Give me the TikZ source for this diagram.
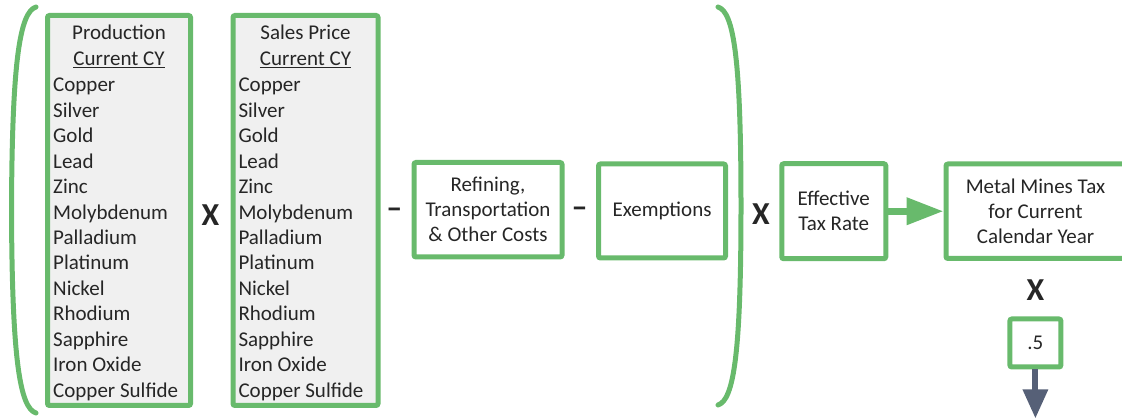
\documentclass[tikz,border=0pt]{standalone}
\usepackage{fontspec}
\setmainfont{Carlito}
\usetikzlibrary{arrows.meta}

\definecolor{boxgreen}{RGB}{104,186,108}
\definecolor{listfill}{RGB}{240,240,240}
\definecolor{inkgray}{RGB}{38,38,38}
\definecolor{arrowgray}{RGB}{86,96,119}

% underline that runs close under the baseline
\newcommand{\undertext}[1]{\setbox0=\hbox{#1}\rlap{\rule[-2.8pt]{\wd0}{1.3pt}}\box0}

\tikzset{
    txt/.style={font=\fontsize{21}{25}\selectfont, text=inkgray},
    box/.style={txt, draw=boxgreen, line width=5pt, rounded corners=2pt,
        align=center, inner sep=0pt},
    listbox/.style={box, fill=listfill},
    item/.style={txt, anchor=base west, inner sep=0pt},
    head/.style={txt, anchor=base, inner sep=0pt},
    op/.style={font=\fontsize{32}{32}\selectfont\bfseries, text=inkgray, inner sep=0pt},
    paren/.style={draw=boxgreen, line width=5pt, line cap=round},
    greenarrow/.style={draw=boxgreen, line width=7pt,
        -{Triangle[length=37pt, width=26pt]}},
    grayarrow/.style={draw=arrowgray, line width=6pt,
        -{Triangle[length=29pt, width=24pt]}}
}

\begin{document}
\begin{tikzpicture}[x=1pt, y=1pt]
    \useasboundingbox (0,0) rectangle (1122,-419);
    % big brackets round the first four terms
    \draw[paren] (36,-7) .. controls (20,-12) and (12,-60) .. (11.5,-210)
        .. controls (12,-360) and (20,-408) .. (36,-413);
    \draw[paren] (718,-7) .. controls (734,-12) and (741,-60) .. (741,-206)
        .. controls (741,-352) and (734,-400) .. (718,-405);
    % the two list boxes
    \node[listbox, minimum width=143pt, minimum height=390pt] (prod) at (119,-210.5) {};
    \node[listbox, minimum width=145pt, minimum height=390pt] (price) at (305.5,-210.5) {};
    % headings of the lists
    \node[head] (prod-head) at (119,-40) {Production};
    \node[head] (prod-cy) at (119,-65.7) {\undertext{Current CY}};
    \node[head] (price-head) at (305.5,-40) {Sales Price};
    \node[head] (price-cy) at (305.5,-65.7) {\undertext{Current CY}};
    % one line for each metal, in both lists
    \foreach \m [count=\i] in {Copper,Silver,Gold,Lead,Zinc,Molybdenum,Palladium,
        Platinum,Nickel,Rhodium,Sapphire,Iron Oxide,Copper Sulfide}{
        \node[item] (prod-\i) at (53,{-91.7-25.47*(\i-1)}) {\m};
        \node[item] (price-\i) at (238.3,{-91.7-25.47*(\i-1)}) {\m};
    }
    % the other terms
    \node[box, minimum width=148pt, minimum height=94.5pt] (costs) at (488,-209.75)
        {Refining,\\Transportation\\\& Other Costs};
    \node[box, minimum width=127pt, minimum height=94pt] (exempt) at (662,-211) {Exemptions};
    \node[box, minimum width=104pt, minimum height=95pt] (rate) at (833.75,-211.25)
        {Effective\\Tax Rate};
    \node[box, minimum width=179pt, minimum height=94.5pt] (tax) at (1035.5,-211.25)
        {Metal Mines Tax\\for Current\\Calendar Year};
    \node[box, minimum width=51pt, minimum height=48pt] (half) at (1035.4,-343) {.5};
    % operators between the terms
    \node[op] (times-a) at (210.5,-215) {X};
    \node[op] (minus-a) at (394.3,-213) {--};
    \node[op] (minus-b) at (579.5,-212) {--};
    \node[op] (times-b) at (761,-214) {X};
    \node[op] (times-c) at (1035.5,-290) {X};
    % arrows
    \coordinate (out) at (1035.4,-418.5);
    \draw[greenarrow] (rate) -- (tax);
    \draw[grayarrow] (half.south) -- (out);
\end{tikzpicture}
\end{document}
